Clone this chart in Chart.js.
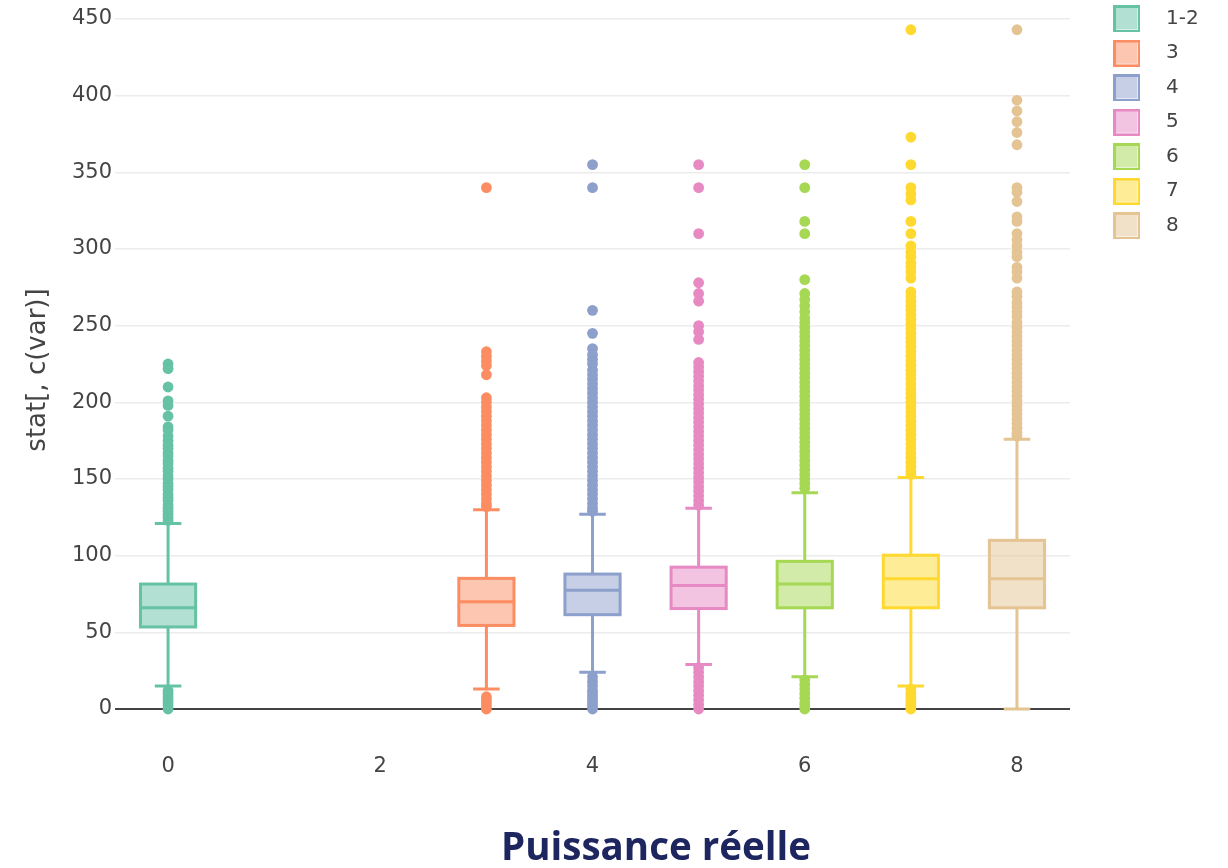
<!DOCTYPE html>
<html>
<head>
<meta charset="utf-8">
<script src="https://cdn.jsdelivr.net/npm/chart.js@4.4.1/dist/chart.umd.min.js"></script>
<style>
  html, body { margin: 0; padding: 0; background: #fff; }
  #wrap { position: relative; width: 1228px; height: 868px; }
  #xtitle {
    position: absolute; left: 656px; top: 826px; transform: translateX(-50%);
    font: 700 38.5px 'Open Sans', sans-serif; line-height: 38px; color: #1e2660;
    white-space: nowrap;
  }
</style>
</head>
<body>
<div id="wrap">
  <canvas id="chart" width="1228" height="868"></canvas>
  <div id="xtitle">Puissance réelle</div>
</div>
<script>
/* ── Data ── */
const groups    = ['1-2', '3', '4', '5', '6', '7', '8'];
const positions = [0, 3, 4, 5, 6, 7, 8];
const q1          = [53.5, 54.5, 61.5, 65.5, 66, 66, 66];
const medians     = [66, 70, 77.5, 80.5, 81.5, 85, 85];
const q3          = [81.5, 85.2, 88, 92.5, 96.3, 100.3, 110];
const lowerFences = [15, 13, 24, 29, 21, 15, 0];
const upperFences = [121, 130, 127, 131, 141, 151, 176];

const outliers12 = [225, 222, 210, 201, 198, 191, 184, 182, 178, 175, 172, 170, 167, 165, 162, 160, 157, 155, 152, 150, 147, 145, 143, 140, 138, 136, 133, 131, 129, 127, 125, 123, 12, 10, 8, 6, 4, 2, 0];
const outliers3 = [340, 233, 230, 227, 224, 218, 203, 200, 197, 194, 191, 188, 185, 182, 179, 176, 173, 170, 167, 164, 161, 158, 155, 152, 149, 146, 143, 140, 137, 134, 132, 8, 6, 4, 2, 0];
const outliers4 = [355, 340, 260, 245, 235, 231, 228, 225, 221, 218, 215, 212, 209, 206, 203, 200, 197, 194, 191, 188, 185, 182, 179, 176, 173, 170, 167, 164, 161, 158, 155, 152, 149, 146, 143, 140, 137, 134, 131, 129, 21, 18, 15, 12, 10, 8, 6, 4, 2, 0];
const outliers5 = [355, 340, 310, 278, 271, 266, 250, 246, 241, 226, 223, 220, 217, 214, 211, 208, 205, 202, 199, 196, 193, 190, 187, 184, 181, 178, 175, 172, 169, 166, 163, 160, 157, 154, 151, 148, 145, 142, 139, 136, 133, 27, 24, 21, 18, 15, 12, 9, 6, 3, 0];
const outliers6 = [355, 340, 318, 310, 280, 271, 267, 263, 259, 255, 252, 249, 246, 243, 240, 237, 234, 231, 228, 225, 222, 219, 216, 213, 210, 207, 204, 201, 198, 195, 192, 189, 186, 183, 180, 177, 174, 171, 168, 165, 162, 159, 156, 153, 150, 147, 144, 19, 16, 13, 10, 7, 4, 2, 0];
const outliers7 = [443, 373, 355, 340, 336, 332, 318, 310, 302, 298, 295, 291, 288, 285, 281, 272, 269, 266, 263, 260, 257, 254, 251, 248, 245, 242, 239, 236, 233, 230, 227, 224, 221, 218, 215, 212, 209, 206, 203, 200, 197, 194, 191, 188, 185, 182, 179, 176, 173, 170, 167, 164, 161, 158, 155, 153, 13, 10, 8, 6, 4, 2, 0];
const outliers8 = [443, 397, 390, 383, 376, 368, 340, 337, 331, 321, 318, 310, 306, 302, 298, 295, 288, 285, 281, 272, 269, 265, 262, 259, 256, 252, 249, 246, 243, 240, 237, 234, 231, 228, 225, 222, 219, 216, 213, 210, 207, 204, 201, 198, 195, 192, 189, 186, 183, 180, 178];
const outliers = [outliers12, outliers3, outliers4, outliers5, outliers6, outliers7, outliers8];

const xTickValues = [0, 2, 4, 6, 8];
const yTickValues = [0, 50, 100, 150, 200, 250, 300, 350, 400, 450];

/* ── Styling ── */
const colors = ['#66c2a5', '#fc8d62', '#8da0cb', '#e78ac3', '#a6d854', '#ffd92f', '#e5c494'];
function withAlpha(hex, a) {
  const n = parseInt(hex.slice(1), 16);
  return 'rgba(' + (n >> 16) + ',' + ((n >> 8) & 255) + ',' + (n & 255) + ',' + a + ')';
}
const fills = colors.map(function (c) { return withAlpha(c, 0.5); });
const BOX_HALF = 0.26;   // x units
const CAP_HALF = 0.125;
const LINE_W = 3;
const TEXT = '#444';
const FONT = "'DejaVu Sans', Verdana, sans-serif";

/* ── Legend swatches (outlined square, half-transparent fill) ── */
function swatch(i) {
  const c = document.createElement('canvas');
  c.width = 27; c.height = 27;
  const g = c.getContext('2d');
  g.fillStyle = colors[i];
  g.fillRect(0, 0, 27, 27);
  g.clearRect(2.5, 2.5, 22, 22);
  g.fillStyle = fills[i];
  g.fillRect(2.5, 2.5, 22, 22);
  return c;
}
const swatches = colors.map(function (c, i) { return swatch(i); });

/* ── Box + whisker drawing through the chart scales ── */
const boxPlugin = {
  id: 'boxes',
  beforeDatasetsDraw(chart) {
    const ctx = chart.ctx;
    const x = chart.scales.x, y = chart.scales.y;
    ctx.save();
    positions.forEach(function (pos, i) {
      const xc = x.getPixelForValue(pos);
      const xl = x.getPixelForValue(pos - BOX_HALF);
      const xr = x.getPixelForValue(pos + BOX_HALF);
      const cl = x.getPixelForValue(pos - CAP_HALF);
      const cr = x.getPixelForValue(pos + CAP_HALF);
      const yq1 = y.getPixelForValue(q1[i]);
      const yq3 = y.getPixelForValue(q3[i]);
      const ymed = y.getPixelForValue(medians[i]);
      const ylo = y.getPixelForValue(lowerFences[i]);
      const yhi = y.getPixelForValue(upperFences[i]);

      ctx.strokeStyle = colors[i];
      ctx.lineWidth = LINE_W;
      ctx.beginPath();
      ctx.moveTo(xc, yq1); ctx.lineTo(xc, ylo);
      ctx.moveTo(xc, yq3); ctx.lineTo(xc, yhi);
      ctx.moveTo(cl, ylo); ctx.lineTo(cr, ylo);
      ctx.moveTo(cl, yhi); ctx.lineTo(cr, yhi);
      ctx.stroke();

      ctx.fillStyle = fills[i];
      ctx.fillRect(xl, yq3, xr - xl, yq1 - yq3);
      ctx.strokeRect(xl, yq3, xr - xl, yq1 - yq3);
      ctx.beginPath();
      ctx.moveTo(xl, ymed); ctx.lineTo(xr, ymed);
      ctx.stroke();
    });
    ctx.restore();
  }
};

const datasets = groups.map(function (g, i) {
  return {
    label: g,
    data: outliers[i].map(function (v) { return { x: positions[i], y: v }; }),
    backgroundColor: colors[i],
    borderWidth: 0,
    pointRadius: 5.4,
    pointHoverRadius: 5.4
  };
});

new Chart(document.getElementById('chart'), {
  type: 'scatter',
  data: { datasets: datasets },
  plugins: [boxPlugin],
  options: {
    responsive: false,
    animation: false,
    layout: { autoPadding: false, padding: { top: -6, bottom: 91, left: 0, right: 19.3 } },
    plugins: {
      tooltip: { enabled: false },
      legend: {
        position: 'right',
        align: 'start',
        labels: {
          usePointStyle: true,
          pointStyleWidth: 59,
          boxHeight: 20,
          padding: 14.5,
          color: TEXT,
          font: { family: FONT, size: 20 },
          generateLabels: function (chart) {
            return chart.data.datasets.map(function (ds, i) {
              return {
                text: ds.label, pointStyle: swatches[i], fillStyle: fills[i],
                strokeStyle: colors[i], lineWidth: 0, hidden: false,
                datasetIndex: i, fontColor: TEXT
              };
            });
          }
        }
      }
    },
    scales: {
      x: {
        type: 'linear',
        min: -0.5,
        max: 8.5,
        grid: { display: false, drawTicks: false },
        border: { display: false },
        ticks: { color: TEXT, font: { family: FONT, size: 21 }, padding: 14 },
        afterBuildTicks: function (s) { s.ticks = xTickValues.map(function (v) { return { value: v }; }); },
        afterFit: function (s) { s.height = 37; }
      },
      y: {
        type: 'linear',
        min: -20.22,
        max: 462.4,
        grid: {
          drawTicks: false,
          color: function (c) { return c.tick && c.tick.value === 0 ? '#444' : '#ececec'; },
          lineWidth: function (c) { return c.tick && c.tick.value === 0 ? 2 : 1.5; }
        },
        border: { display: false },
        ticks: { color: TEXT, font: { family: FONT, size: 21 }, padding: 3 },
        title: {
          display: true,
          text: 'stat[, c(var)]',
          color: TEXT,
          font: { family: FONT, size: 26 },
          padding: { top: 22.4, bottom: 0 }
        },
        afterBuildTicks: function (s) { s.ticks = yTickValues.map(function (v) { return { value: v }; }); },
        afterFit: function (s) { s.width = 115; s.paddingTop = 0; s.paddingBottom = 0; }
      },
      // empty axis that only holds the gap between plot and legend
      gap: {
        type: 'linear',
        position: 'right',
        grid: { display: false, drawOnChartArea: false, drawTicks: false },
        border: { display: false },
        ticks: { display: false },
        afterFit: function (s) { s.width = 12.5; s.paddingTop = 0; s.paddingBottom = 0; }
      }
    }
  }
});
</script>
</body>
</html>
